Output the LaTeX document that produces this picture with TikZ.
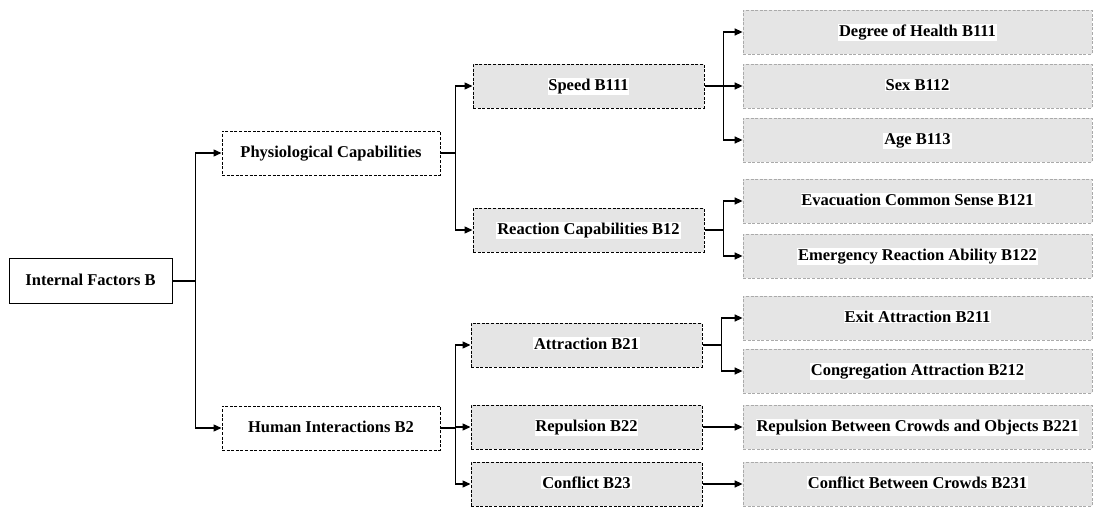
\documentclass[tikz,border=0pt]{standalone}
\usepackage{fontspec}
\setmainfont{Liberation Serif}
\usetikzlibrary{arrows.meta}

\definecolor{boxgray}{RGB}{229,229,229}
\definecolor{edgegray}{RGB}{170,170,170}
\newcommand{\hilite}[1]{{\setlength{\fboxsep}{0.8pt}\colorbox{white}{#1}}}

\begin{document}
\begin{tikzpicture}[x=1pt,y=-1pt,
  every node/.style={font=\bfseries\fontsize{16.5}{19}\selectfont, inner sep=0pt,
    text height=10pt, text depth=1pt},
  rootbox/.style={draw, line width=1pt, minimum width=163pt, minimum height=45pt},
  groupbox/.style={draw, line width=1pt, dash pattern=on 3pt off 1.6pt, fill=white,
    minimum width=218pt, minimum height=44pt},
  midbox/.style={draw, line width=1pt, dash pattern=on 3pt off 1.6pt, fill=boxgray,
    minimum width=231pt, minimum height=44pt},
  leafbox/.style={draw=edgegray, line width=0.8pt, dash pattern=on 3pt off 1.6pt, fill=boxgray,
    minimum width=349pt, minimum height=44pt},
  arr/.style={line width=1.4pt, -{Triangle[length=8pt,width=7pt]}}]

  \useasboundingbox (0,0) rectangle (1094,506);

  % Nodes

  \node[rootbox] (int_b) at (90.5,281) {Internal Factors B};

  \node[groupbox] (phys_b1) at (331,153) {Physiological Capabilities};
  \node[groupbox] (hum_b2) at (331,428) {Human Interactions B2};

  \node[midbox] (speed_b11) at (588.5,86) {\hilite{Speed B111}};
  \node[midbox] (react_b12) at (588.5,230) {\hilite{Reaction Capabilities B12}};
  \node[midbox] (attr_b21) at (586.5,345) {\hilite{Attraction B21}};
  \node[midbox] (repul_b22) at (586.5,427) {\hilite{Repulsion B22}};
  \node[midbox] (confl_b23) at (586.5,484) {\hilite{Conflict B23}};

  \node[leafbox] (health_b111) at (917.5,32) {\hilite{Degree of Health B111}};
  \node[leafbox] (sex_b112) at (917.5,86) {\hilite{Sex B112}};
  \node[leafbox] (age_b113) at (917.5,140) {\hilite{Age B113}};
  \node[leafbox] (sense_b121) at (917.5,201) {\hilite{Evacuation Common Sense B121}};
  \node[leafbox] (ability_b122) at (917.5,256) {\hilite{Emergency Reaction Ability B122}};
  \node[leafbox] (exit_b211) at (917.5,318) {\hilite{Exit Attraction B211}};
  \node[leafbox] (congr_b212) at (917.5,371) {\hilite{Congregation Attraction B212}};
  \node[leafbox] (objects_b221) at (917.5,427) {\hilite{Repulsion Between Crowds and Objects B221}};
  \node[leafbox] (crowds_b231) at (917.5,484) {\hilite{Conflict Between Crowds B231}};

  % Edges

  \draw[arr] (int_b.east) -- ++(23,0) |- (phys_b1.west);
  \draw[arr] (int_b.east) -- ++(23,0) |- (hum_b2.west);

  \draw[arr] (phys_b1.east) -- ++(15,0) |- (speed_b11.west);
  \draw[arr] (phys_b1.east) -- ++(15,0) |- (react_b12.west);

  \draw[arr] (hum_b2.east) -- ++(15,0) |- (attr_b21.west);
  \draw[arr] (hum_b2.east) -- ++(15,0) |- (repul_b22.west);
  \draw[arr] (hum_b2.east) -- ++(15,0) |- (confl_b23.west);

  \draw[arr] (speed_b11.east) -- ++(19,0) |- (health_b111.west);
  \draw[arr] (speed_b11.east) -- ++(19,0) |- (sex_b112.west);
  \draw[arr] (speed_b11.east) -- ++(19,0) |- (age_b113.west);

  \draw[arr] (react_b12.east) -- ++(19,0) |- (sense_b121.west);
  \draw[arr] (react_b12.east) -- ++(19,0) |- (ability_b122.west);

  \draw[arr] (attr_b21.east) -- ++(19,0) |- (exit_b211.west);
  \draw[arr] (attr_b21.east) -- ++(19,0) |- (congr_b212.west);

  \draw[arr] (repul_b22.east) -- (objects_b221.west);
  \draw[arr] (confl_b23.east) -- (crowds_b231.west);

\end{tikzpicture}
\end{document}
